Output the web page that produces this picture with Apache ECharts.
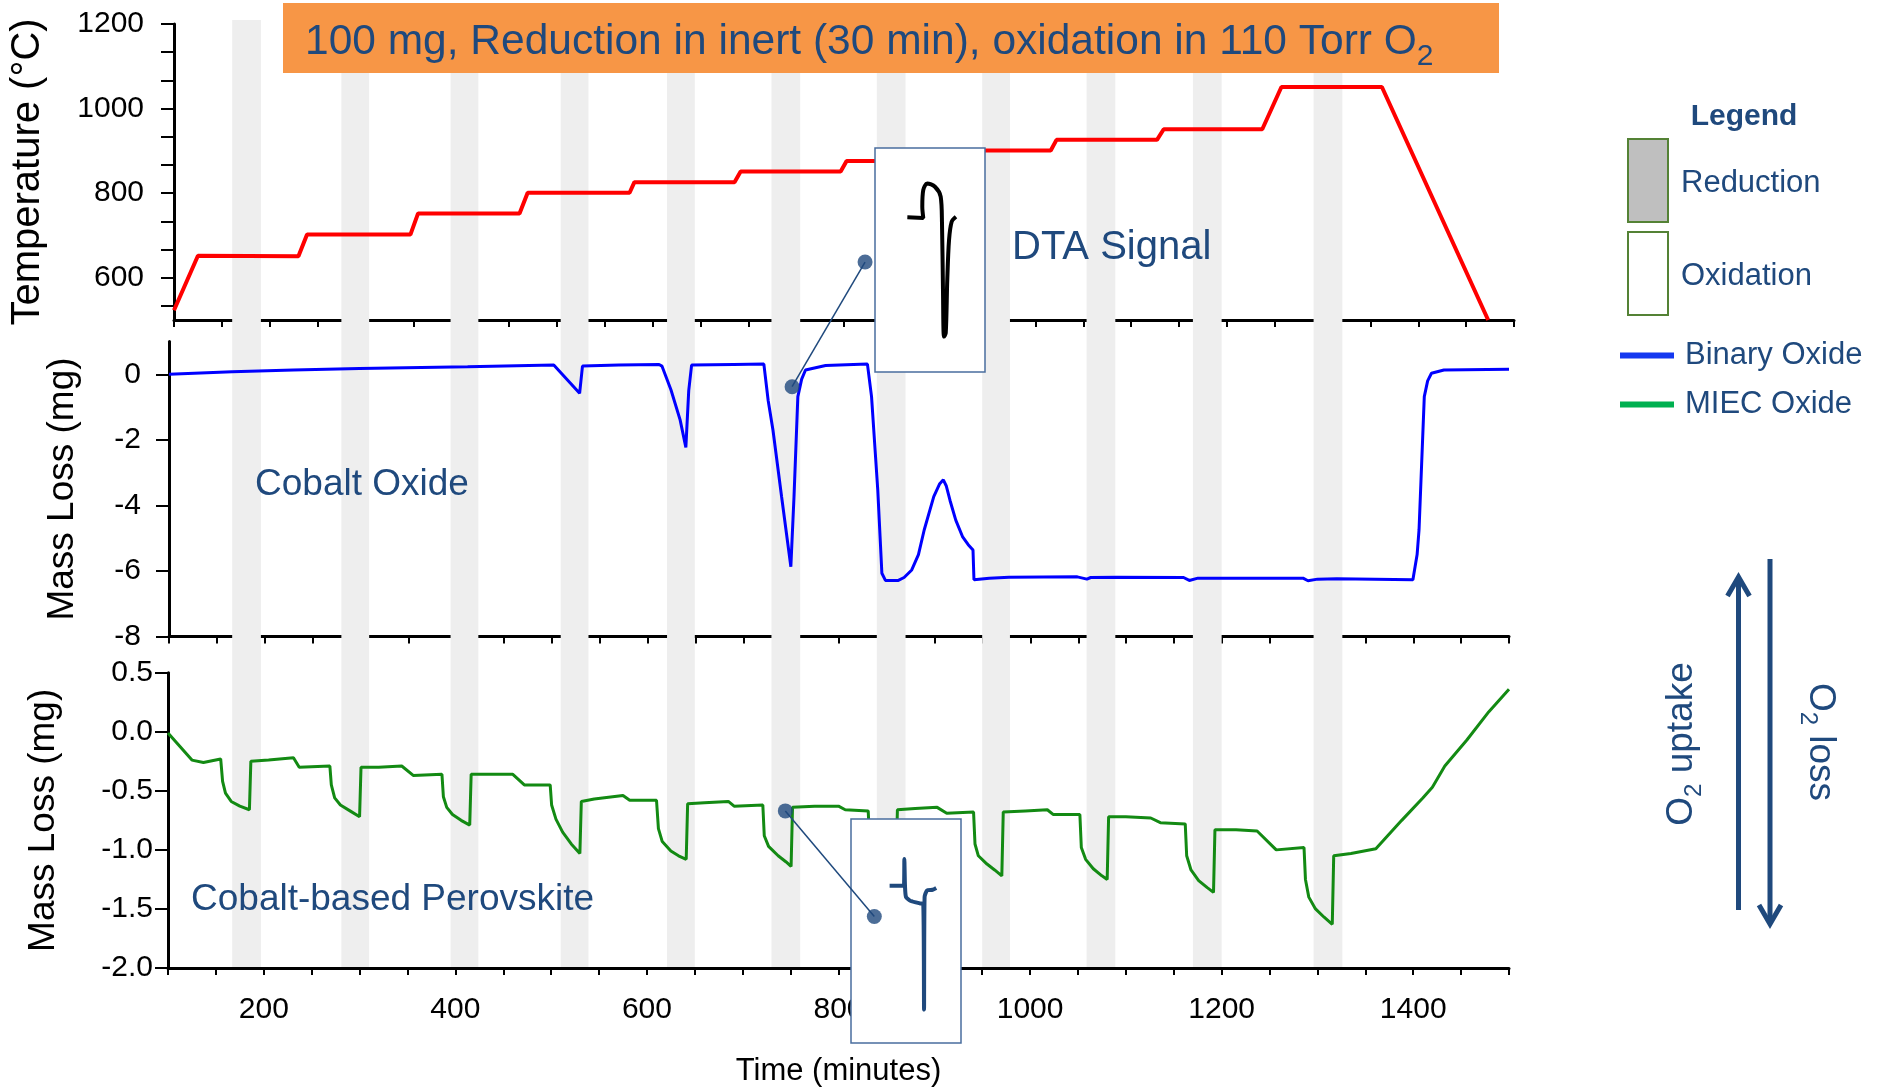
<!DOCTYPE html>
<html>
<head>
<meta charset="utf-8">
<title>Redox cycling - TGA / DTA</title>
<script src="https://cdn.jsdelivr.net/npm/echarts@6/dist/echarts.min.js"></script>
<style>
    html, body { margin: 0; padding: 0; background: #fff; }
    #main { width: 1883px; height: 1088px; }
</style>
</head>
<body>
<div id="main"></div>
<script>
// reduction windows (minutes) -> grey bands
var reductionBands = [[167, 197], [281, 310], [395, 424], [510, 539], [621, 650], [730, 760],
    [840, 870], [950, 979], [1059, 1089], [1170, 1200], [1296, 1326]];

// furnace program, [time, °C]
var temperature = [[100, 523], [125, 652], [230, 651], [239, 702], [347, 702], [355, 752], [461, 752],
    [469.5, 801], [576, 801], [581, 826], [685.6, 826], [692, 851], [796.5, 851], [802.7, 876],
    [907, 876], [913, 901], [1016, 901], [1022, 926], [1127, 926], [1134, 951], [1237, 951],
    [1257, 1051], [1362, 1051], [1473, 500]];

// cobalt oxide mass change, [time, mg]
var binaryOxide = [[100, 0], [166, 0.08], [230, 0.13], [299, 0.18], [412, 0.23], [502, 0.28],
    [529, -0.58], [532, 0.25], [570, 0.28], [612, 0.3], [615, 0.25], [624.5, -0.48], [634, -1.39],
    [640, -2.23], [643, -0.5], [646, 0.28], [690, 0.3], [721.5, 0.31], [726, -0.8], [731, -1.7],
    [740, -3.73], [749.7, -5.87], [753, -3.73], [757, -0.68], [761, -0.15], [765, 0.13], [786, 0.27],
    [829.7, 0.31], [834, -0.68], [840.5, -3.53], [844.8, -6.07], [848.5, -6.29], [862, -6.29],
    [868, -6.2], [876, -5.97], [883, -5.5], [889, -4.75], [899, -3.73], [905, -3.35], [909, -3.22],
    [912, -3.4], [916, -3.85], [922, -4.45], [929, -4.95], [935, -5.2], [940, -5.36], [941, -6.27],
    [957, -6.22], [977.6, -6.19], [1049, -6.18], [1059, -6.25], [1063, -6.2], [1090, -6.19],
    [1160, -6.2], [1166, -6.29], [1175, -6.22], [1284.8, -6.22], [1290, -6.3], [1300, -6.25],
    [1320, -6.24], [1399.6, -6.27], [1404, -5.5], [1406, -4.75], [1411.5, -0.68], [1415, -0.2],
    [1419, 0.03], [1432, 0.13], [1500, 0.15]];

// cobalt perovskite mass change, [time, mg]
var miecOxide = [[100, -0.01], [125, -0.24], [137, -0.26], [155, -0.23],
    [157, -0.42], [160, -0.52], [166, -0.59], [175, -0.63], [185, -0.66], [186.5, -0.25],
    [205, -0.24], [231, -0.22], [237, -0.30], [269, -0.29],
    [270.5, -0.45], [274, -0.56], [280, -0.62], [290, -0.67], [300, -0.72], [301.5, -0.30],
    [320, -0.30], [344, -0.29], [356, -0.37], [386, -0.36],
    [387.5, -0.55], [391, -0.64], [397, -0.70], [406, -0.75], [415, -0.79], [416.5, -0.36],
    [440, -0.36], [460, -0.36], [472, -0.45], [499, -0.45],
    [500.5, -0.62], [505, -0.74], [512, -0.85], [521, -0.95], [530, -1.03], [531.5, -0.59],
    [545, -0.57], [575, -0.54], [582, -0.58], [610, -0.58],
    [612, -0.82], [616, -0.93], [625, -1.01], [633, -1.05], [641, -1.08], [642.5, -0.61],
    [660, -0.60], [685, -0.59], [691, -0.63], [721, -0.62],
    [722.5, -0.88], [727, -0.97], [737, -1.05], [745, -1.10], [750.5, -1.14], [752, -0.64],
    [775, -0.63], [800, -0.63], [807, -0.66], [831, -0.67],
    [832.5, -0.92], [838, -1.03], [848, -1.10], [860, -1.16], [861.5, -0.66],
    [880, -0.65], [903, -0.64], [913, -0.69], [941, -0.68],
    [942.5, -0.95], [946, -1.05], [955, -1.12], [963, -1.17], [970.5, -1.22], [972, -0.68],
    [995, -0.67], [1018, -0.66], [1024, -0.70], [1052, -0.70],
    [1053.5, -0.98], [1058, -1.08], [1066, -1.16], [1075, -1.22], [1080.5, -1.25], [1082, -0.72],
    [1100, -0.72], [1126, -0.73], [1136, -0.77], [1162, -0.78],
    [1163.5, -1.05], [1168, -1.17], [1176, -1.26], [1185, -1.32], [1191.5, -1.36], [1193, -0.83],
    [1215, -0.83], [1237, -0.84], [1257, -1.00], [1286, -0.98],
    [1287.5, -1.25], [1291, -1.40], [1298, -1.50], [1307, -1.57], [1315.5, -1.63], [1317, -1.05],
    [1335, -1.03], [1361, -0.99], [1388, -0.75], [1410, -0.56], [1420, -0.47], [1433, -0.29],
    [1456, -0.07], [1479, 0.17], [1500, 0.36]];

// inset traces, arbitrary units (0-100 box)
var dtaCobalt = [[29.4, 69.1], [43.9, 68.8], [43.0, 73.8], [43.9, 81.3], [47.5, 84.2], [54.5, 82.7],
    [59.7, 78.3], [60.9, 66.4], [61.8, 36.6], [62.7, 15.8], [64.3, 17.3], [65.7, 41.1], [67.3, 58.9],
    [69.7, 67.1], [73.6, 69.3]];
var dtaPerovskite = [[35.1, 70.2], [46.4, 70.2], [48.2, 70.5], [48.5, 82.1], [49.1, 69.9], [50.0, 65.2],
    [53.9, 63.5], [63.0, 62.3], [65.7, 62.1], [66.4, 14.9], [66.9, 65.2], [69.1, 68.1], [74.2, 68.4],
    [77.5, 69.2]];

// where the inset call-outs point
var coDot = [751, -0.38];          // on cobalt oxide curve
var coDotTop = [822, 637];         // end of leader, top panel coords
var pvDot = [744.5, -0.67];        // on perovskite curve
var pvDotInset = [21.2, 56.5];     // end of leader, inset coords

var xLabels = [200, 400, 600, 800, 1000, 1200, 1400];
var tempLabels = [600, 800, 1000, 1200];
var tempTicks = [533.33, 600, 666.67, 733.33, 800, 866.67, 933.33, 1000, 1066.67, 1133.33, 1200];
var coLabels = [-8, -6, -4, -2, 0];

var FONT = "'Liberation Sans', Arial, sans-serif";
var NAVY = '#1F497D';

var chart = echarts.init(document.getElementById('main'));

function plain(v) { return String(v); }

function xAxisFor(grid, withLabels) {
    return {
        type: 'value', gridIndex: grid, min: 100, max: 1500, interval: 50,
        splitLine: { show: false },
        axisLine: { onZero: false, lineStyle: { color: '#000', width: 3 } },
        axisTick: { length: 7, lineStyle: { color: '#000', width: 2 } },
        axisLabel: withLabels ? {
            customValues: xLabels, formatter: plain, margin: 27, color: '#000', fontSize: 30, fontFamily: FONT
        } : { show: false },
        name: withLabels ? 'Time (minutes)' : '',
        nameLocation: 'middle', nameGap: 88,
        nameTextStyle: { color: '#000', fontSize: 31, fontFamily: FONT }
    };
}

function yAxisBase(grid) {
    return {
        type: 'value', gridIndex: grid,
        splitLine: { show: false },
        axisLine: { show: true, onZero: false, lineStyle: { color: '#000', width: 3 } },
        axisTick: { show: true, length: 13, lineStyle: { color: '#000', width: 2 } },
        nameLocation: 'middle', nameRotate: 90,
        nameTextStyle: { color: '#000', fontSize: 37, fontFamily: FONT }
    };
}

var yTemp = yAxisBase(0);
yTemp.min = 500; yTemp.max = 1200;
yTemp.axisTick.customValues = tempTicks;
yTemp.axisLabel = { customValues: tempLabels, formatter: plain, margin: 30, color: '#000', fontSize: 30, fontFamily: FONT };
yTemp.name = 'Temperature (°C)';
yTemp.nameGap = 126;
yTemp.nameTextStyle.fontSize = 40;

var yCo = yAxisBase(1);
yCo.min = -8; yCo.max = 1;
yCo.axisTick.customValues = coLabels;
yCo.axisLabel = { customValues: coLabels, formatter: plain, margin: 28, color: '#000', fontSize: 30, fontFamily: FONT };
yCo.name = 'Mass Loss (mg)';
yCo.nameGap = 88;

var yPv = yAxisBase(2);
yPv.min = -2; yPv.max = 0.5; yPv.interval = 0.5;
yPv.axisLabel = {
    margin: 15, color: '#000', fontSize: 30, fontFamily: FONT,
    formatter: function (v) { return v.toFixed(1); }
};
yPv.name = 'Mass Loss (mg)';
yPv.nameGap = 106;

function hiddenAxis(grid, max) {
    return { type: 'value', gridIndex: grid, min: 0, max: max, show: false };
}

var bandAreas = reductionBands.map(function (b) {
    return [{ xAxis: b[0] }, { xAxis: b[1] }];
});

var dotStyle = { color: NAVY };

var option = {
    animation: false,
    backgroundColor: '#fff',
    grid: [
        { left: 174, top: 24, width: 1340, height: 296 },
        { left: 169, top: 341.5, width: 1340, height: 295 },
        { left: 168, top: 672.7, width: 1341, height: 295.6 },
        { left: 168, top: 20, width: 1341, height: 947 },
        { left: 875, top: 148, width: 110, height: 224, show: true, z: 10,
            backgroundColor: '#fff', borderColor: '#4A6E9E', borderWidth: 1.5 },
        { left: 851, top: 819, width: 110, height: 224, show: true, z: 10,
            backgroundColor: '#fff', borderColor: '#4A6E9E', borderWidth: 1.5 }
    ],
    xAxis: [xAxisFor(0, false), xAxisFor(1, false), xAxisFor(2, true),
        { type: 'value', gridIndex: 3, min: 100, max: 1500, show: false },
        hiddenAxis(4, 100), hiddenAxis(5, 100)],
    yAxis: [yTemp, yCo, yPv, hiddenAxis(3, 1), hiddenAxis(4, 100), hiddenAxis(5, 100)],
    legend: {
        data: [
            { name: 'Binary Oxide', itemStyle: { color: '#1438F0' } },
            { name: 'MIEC Oxide', itemStyle: { color: '#00B050' } }
        ],
        orient: 'vertical', left: 1615, top: 335, itemWidth: 54, itemHeight: 6, itemGap: 18,
        icon: 'rect',
        textStyle: { fontSize: 31, color: NAVY, fontFamily: FONT, padding: [0, 0, 0, 6] }
    },
    series: [
        {
            name: 'bands', type: 'line', xAxisIndex: 3, yAxisIndex: 3, z: 0,
            data: [[100, -1]], symbol: 'none', lineStyle: { opacity: 0 }, silent: true,
            markArea: { silent: true, itemStyle: { color: '#EEEEEE' }, data: bandAreas }
        },
        {
            name: 'Temperature', type: 'line', xAxisIndex: 0, yAxisIndex: 0, data: temperature,
            symbol: 'none', lineStyle: { color: '#FF0000', width: 4 }
        },
        {
            name: 'Binary Oxide', type: 'line', xAxisIndex: 1, yAxisIndex: 1, data: binaryOxide,
            symbol: 'none', color: '#0000FF', lineStyle: { color: '#0000FF', width: 3 }
        },
        {
            name: 'MIEC Oxide', type: 'line', xAxisIndex: 2, yAxisIndex: 2, data: miecOxide,
            symbol: 'none', color: '#00B050', lineStyle: { color: '#138A13', width: 3 }
        },
        {
            name: 'DTA cobalt', type: 'line', xAxisIndex: 4, yAxisIndex: 4, data: dtaCobalt, z: 12,
            symbol: 'none', smooth: 0.3, lineStyle: { color: '#000', width: 4 }
        },
        {
            name: 'DTA perovskite', type: 'line', xAxisIndex: 5, yAxisIndex: 5, data: dtaPerovskite, z: 12,
            symbol: 'none', smooth: 0.2, lineStyle: { color: NAVY, width: 4 }
        },
        { type: 'scatter', xAxisIndex: 1, yAxisIndex: 1, data: [coDot], symbolSize: 15, itemStyle: dotStyle, z: 16 },
        { type: 'scatter', xAxisIndex: 0, yAxisIndex: 0, data: [coDotTop], symbolSize: 15, itemStyle: dotStyle, z: 16 },
        { type: 'scatter', xAxisIndex: 2, yAxisIndex: 2, data: [pvDot], symbolSize: 15, itemStyle: dotStyle, z: 16 },
        { type: 'scatter', xAxisIndex: 5, yAxisIndex: 5, data: [pvDotInset], symbolSize: 15, itemStyle: dotStyle, z: 16 }
    ],
    graphic: {
        elements: [
            // header box
            { id: 'hdrBox', type: 'rect', z: 10, shape: { x: 283, y: 3, width: 1216, height: 70 },
                style: { fill: '#F79646' } },
            { id: 'hdrText', type: 'text', z: 11, x: 305, y: 12,
                style: {
                    text: '{a|100 mg, Reduction in inert (30 min), oxidation in 110 Torr O}{b|2}',
                    rich: {
                        a: { fontSize: 42.5, fontFamily: FONT, fill: NAVY, lineHeight: 60, verticalAlign: 'middle' },
                        b: { fontSize: 30, fontFamily: FONT, fill: NAVY, lineHeight: 60, verticalAlign: 'bottom' }
                    }
                } },
            { id: 'dtaLbl', type: 'text', z: 11, x: 1012, y: 248,
                style: { text: 'DTA Signal', fontSize: 40, fontFamily: FONT, fill: NAVY, verticalAlign: 'middle' } },
            { id: 'coLbl', type: 'text', z: 11, x: 255, y: 485,
                style: { text: 'Cobalt Oxide', fontSize: 37, fontFamily: FONT, fill: NAVY, verticalAlign: 'middle' } },
            { id: 'pvLbl', type: 'text', z: 11, x: 191, y: 900,
                style: { text: 'Cobalt-based Perovskite', fontSize: 37, fontFamily: FONT, fill: NAVY, verticalAlign: 'middle' } },

            // band / phase key
            { id: 'lgTitle', type: 'text', z: 11, x: 1744, y: 117,
                style: { text: 'Legend', fontSize: 30, fontWeight: 'bold', fontFamily: FONT, fill: NAVY,
                    align: 'center', verticalAlign: 'middle' } },
            { id: 'lgRed', type: 'rect', z: 11, shape: { x: 1628, y: 139, width: 40, height: 83 },
                style: { fill: '#BFBFBF', stroke: '#548235', lineWidth: 2 } },
            { id: 'lgRedTxt', type: 'text', z: 11, x: 1681, y: 183,
                style: { text: 'Reduction', fontSize: 31, fontFamily: FONT, fill: NAVY, verticalAlign: 'middle' } },
            { id: 'lgOx', type: 'rect', z: 11, shape: { x: 1628, y: 232, width: 40, height: 83 },
                style: { fill: '#fff', stroke: '#548235', lineWidth: 2 } },
            { id: 'lgOxTxt', type: 'text', z: 11, x: 1681, y: 276,
                style: { text: 'Oxidation', fontSize: 31, fontFamily: FONT, fill: NAVY, verticalAlign: 'middle' } },

            // O2 uptake / loss arrows
            { id: 'upShaft', type: 'line', z: 11, shape: { x1: 1738.5, y1: 910, x2: 1738.5, y2: 578 },
                style: { stroke: NAVY, lineWidth: 5 } },
            { id: 'upHead', type: 'polyline', z: 11,
                shape: { points: [[1727.5, 596], [1738.5, 577], [1749.5, 596]] },
                style: { stroke: NAVY, lineWidth: 5, fill: null } },
            { id: 'dnShaft', type: 'line', z: 11, shape: { x1: 1770, y1: 559, x2: 1770, y2: 922 },
                style: { stroke: NAVY, lineWidth: 5 } },
            { id: 'dnHead', type: 'polyline', z: 11,
                shape: { points: [[1759, 905], [1770, 924], [1781, 905]] },
                style: { stroke: NAVY, lineWidth: 5, fill: null } },
            { id: 'upTxt', type: 'text', z: 11, x: 1682, y: 744, rotation: Math.PI / 2,
                style: {
                    text: '{a|O}{b|2}{a| uptake}', align: 'center', verticalAlign: 'middle',
                    rich: {
                        a: { fontSize: 37, fontFamily: FONT, fill: NAVY, lineHeight: 48, verticalAlign: 'middle' },
                        b: { fontSize: 24, fontFamily: FONT, fill: NAVY, lineHeight: 48, verticalAlign: 'bottom' }
                    }
                } },
            { id: 'dnTxt', type: 'text', z: 11, x: 1820, y: 742, rotation: -Math.PI / 2,
                style: {
                    text: '{a|O}{b|2}{a| loss}', align: 'center', verticalAlign: 'middle',
                    rich: {
                        a: { fontSize: 37, fontFamily: FONT, fill: NAVY, lineHeight: 48, verticalAlign: 'middle' },
                        b: { fontSize: 24, fontFamily: FONT, fill: NAVY, lineHeight: 48, verticalAlign: 'bottom' }
                    }
                } }
        ]
    }
};

chart.setOption(option);

// leader lines between curve points and the insets
var a1 = chart.convertToPixel({ gridIndex: 1 }, coDot);
var a2 = chart.convertToPixel({ gridIndex: 0 }, coDotTop);
var b1 = chart.convertToPixel({ gridIndex: 2 }, pvDot);
var b2 = chart.convertToPixel({ gridIndex: 5 }, pvDotInset);
chart.setOption({
    graphic: {
        elements: [
            { id: 'lead1', type: 'line', z: 15, shape: { x1: a1[0], y1: a1[1], x2: a2[0], y2: a2[1] },
                style: { stroke: NAVY, lineWidth: 1.5 } },
            { id: 'lead2', type: 'line', z: 15, shape: { x1: b1[0], y1: b1[1], x2: b2[0], y2: b2[1] },
                style: { stroke: NAVY, lineWidth: 1.5 } }
        ]
    }
});
</script>
</body>
</html>
